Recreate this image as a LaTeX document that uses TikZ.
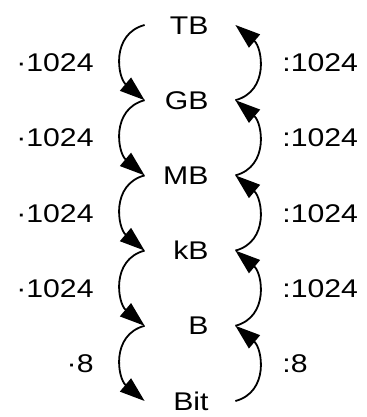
\documentclass[tikz,border=0pt]{standalone}
\usepackage{fontspec}
\newfontfamily\unitfont[FakeStretch=1.18]{Liberation Sans}
\usetikzlibrary{arrows.meta}
\begin{document}
\begin{tikzpicture}[x=0.5pt,y=0.5pt,
  >={Triangle[length=12.5pt,width=8.5pt]},
  unit/.style={inner sep=0pt,text width=31.75pt,align=right,text height=9.2pt,text depth=0pt,
    font=\unitfont\fontsize{12.8}{15}\selectfont},
  factor/.style={inner sep=0pt,text height=9.2pt,text depth=0pt,
    font=\unitfont\fontsize{12.8}{15}\selectfont},
  conv/.style={line width=0.9pt,->,looseness=1.2}]
  \useasboundingbox (0,0) rectangle (367,417);
  \def\dy{75.2}
  \foreach \u [count=\i from 0] in {TB,GB,MB,kB,B,Bit}
    \node[unit] (\u) at (176.75,392-\dy*\i) {\u};
  % left: multiply going down, right: divide going up
  \foreach \a/\b/\f [count=\i from 0] in {TB/GB/1024,GB/MB/1024,MB/kB/1024,kB/B/1024,B/Bit/8} {
    \draw[conv] (\a.west) to[out=195,in=140] (\b.west);
    \draw[conv] ([xshift=13.25pt]\b.east) to[out=15,in=-40] ([xshift=13.25pt]\a.east);
    \node[factor,anchor=east] (mul\i) at (94,392-\dy*\i-\dy/2) {·\f};
    \node[factor,anchor=west] (div\i) at (282,392-\dy*\i-\dy/2) {:\f};
  }
\end{tikzpicture}
\end{document}
